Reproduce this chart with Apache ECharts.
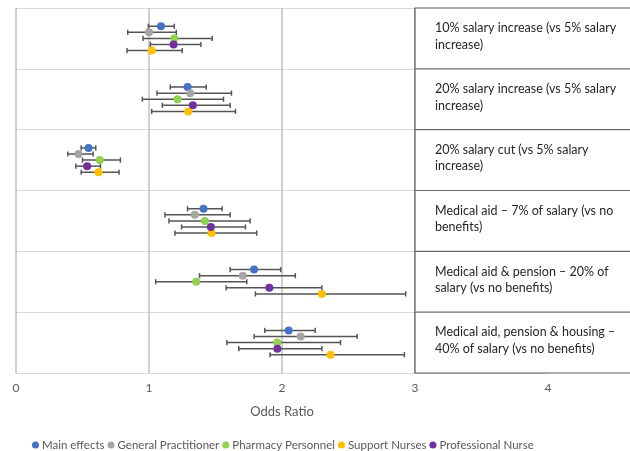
<!DOCTYPE html>
<html>
<head>
<meta charset="utf-8">
<script src="https://cdn.jsdelivr.net/npm/echarts@6/dist/echarts.min.js"></script>
<style>
html,body{margin:0;padding:0;background:#fff;}
#chart{width:630px;height:451px;}
</style>
</head>
<body>
<div id="chart"></div>
<script>
// ---- Data ----
const categories = [
  "10% salary increase (vs 5% salary\nincrease)",
  "20% salary increase (vs 5% salary\nincrease)",
  "20% salary cut (vs 5% salary\nincrease)",
  "Medical aid \u2013 7% of salary (vs no\nbenefits)",
  "Medical aid & pension \u2013 20% of\nsalary (vs no benefits)",
  "Medical aid, pension & housing \u2013\n40% of salary (vs no benefits)"
];
const seriesNames = ["Main effects", "General Practitioner", "Pharmacy Personnel", "Support Nurses", "Professional Nurse"];
const xTickLabels = ["0", "1", "2", "3", "4"];

const mainOR    = [1.09, 1.29, 0.545, 1.41, 1.79, 2.05];
const mainLow   = [0.995, 1.16, 0.49, 1.29, 1.61, 1.87];
const mainHigh  = [1.19, 1.43, 0.60, 1.55, 1.99, 2.25];

const gpOR      = [1.00, 1.31, 0.47, 1.345, 1.705, 2.14];
const gpLow     = [0.84, 1.06, 0.39, 1.12, 1.38, 1.79];
const gpHigh    = [1.205, 1.62, 0.58, 1.61, 2.10, 2.565];

const pharmOR   = [1.19, 1.215, 0.63, 1.42, 1.355, 1.965];
const pharmLow  = [0.955, 0.95, 0.50, 1.15, 1.05, 1.585];
const pharmHigh = [1.475, 1.56, 0.785, 1.76, 1.735, 2.44];

const suppOR    = [1.02, 1.295, 0.62, 1.47, 2.30, 2.365];
const suppLow   = [0.835, 1.02, 0.49, 1.195, 1.80, 1.91];
const suppHigh  = [1.25, 1.65, 0.775, 1.81, 2.93, 2.92];

const profOR    = [1.185, 1.33, 0.535, 1.465, 1.905, 1.965];
const profLow   = [1.01, 1.10, 0.45, 1.245, 1.58, 1.675];
const profHigh  = [1.39, 1.61, 0.635, 1.725, 2.30, 2.30];

// ---- Styling / layout (not data) ----
const groups = [
  {name: seriesNames[0], or: mainOR,  lo: mainLow,  hi: mainHigh,  color: '#4472C4', off: 0.2},
  {name: seriesNames[1], or: gpOR,    lo: gpLow,    hi: gpHigh,    color: '#A5A5A5', off: 0.1},
  {name: seriesNames[2], or: pharmOR, lo: pharmLow, hi: pharmHigh, color: '#92D050', off: 0.0},
  {name: seriesNames[3], or: suppOR,  lo: suppLow,  hi: suppHigh,  color: '#FFC000', off: -0.2},
  {name: seriesNames[4], or: profOR,  lo: profLow,  hi: profHigh,  color: '#7030A0', off: -0.1}
];
const nRows = categories.length;
const FONT = 'Lato, "Open Sans", sans-serif';

const series = [];
groups.forEach(g => {
  const ebData = g.or.map((v, i) => [g.lo[i], g.hi[i], nRows - i - 0.5 + g.off]);
  series.push({
    type: 'custom',
    silent: true,
    z: 2,
    data: ebData,
    renderItem: function (params, api) {
      const y = api.value(2);
      const p1 = api.coord([api.value(0), y]);
      const p2 = api.coord([api.value(1), y]);
      const h = 2.6;
      const st = {stroke: '#555555', lineWidth: 1.5};
      return {
        type: 'group',
        children: [
          {type: 'line', shape: {x1: p1[0], y1: p1[1], x2: p2[0], y2: p2[1]}, style: st},
          {type: 'line', shape: {x1: p1[0], y1: p1[1] - h, x2: p1[0], y2: p1[1] + h}, style: st},
          {type: 'line', shape: {x1: p2[0], y1: p2[1] - h, x2: p2[0], y2: p2[1] + h}, style: st}
        ]
      };
    }
  });
});
groups.forEach(g => {
  series.push({
    name: g.name,
    type: 'scatter',
    z: 3,
    symbol: 'circle',
    symbolSize: 8,
    itemStyle: {color: g.color, opacity: 1},
    data: g.or.map((v, i) => [v, nRows - i - 0.5 + g.off])
  });
});

const chart = echarts.init(document.getElementById('chart'), null, {renderer: 'canvas'});
chart.setOption({
  animation: false,
  backgroundColor: '#ffffff',
  grid: {left: 16, right: 82, top: 8, bottom: 78, containLabel: false},
  xAxis: {
    type: 'value', min: 0, max: 4, interval: 1,
    name: 'Odds Ratio', nameLocation: 'middle', nameGap: 32,
    nameTextStyle: {color: '#595959', fontSize: 13, fontFamily: FONT},
    axisLine: {show: false}, axisTick: {show: false},
    axisLabel: {color: '#595959', fontSize: 12, fontFamily: FONT, margin: 9,
      formatter: v => xTickLabels[Math.round(v)] ?? ''},
    splitLine: {show: true, lineStyle: {color: '#BFBFBF', width: 1.5}}
  },
  yAxis: {
    type: 'value', min: 0, max: nRows, interval: 1,
    axisLine: {show: false}, axisTick: {show: false}, axisLabel: {show: false},
    splitLine: {show: true, lineStyle: {color: '#D9D9D9', width: 1.2}}
  },
  legend: {
    data: seriesNames,
    left: 27, top: 434,
    icon: 'circle', itemWidth: 7, itemHeight: 7, itemGap: 3,
    textStyle: {color: '#595959', fontSize: 11.5, fontFamily: FONT, padding: [0, 0, 0, -2]}
  },
  series: series
});

// ---- Table of labels drawn on the right using the axis scales ----
const xL = chart.convertToPixel({xAxisIndex: 0}, 3);
const yTop = chart.convertToPixel({yAxisIndex: 0}, nRows);
const yBot = chart.convertToPixel({yAxisIndex: 0}, 0);
const graphics = [{
  type: 'rect', z: 10,
  shape: {x: xL, y: yTop, width: 700 - xL, height: yBot - yTop},
  style: {fill: '#ffffff', stroke: '#5a5a5a', lineWidth: 1.2}
}];
categories.forEach((c, i) => {
  const rt = chart.convertToPixel({yAxisIndex: 0}, nRows - i);
  const rb = chart.convertToPixel({yAxisIndex: 0}, nRows - i - 1);
  if (i < nRows - 1) {
    graphics.push({type: 'line', z: 11,
      shape: {x1: xL, y1: rb, x2: 700, y2: rb},
      style: {stroke: '#6a6a6a', lineWidth: 1.2}});
  }
  graphics.push({type: 'text', z: 12, x: xL + 20, y: rt + 12,
    style: {text: c, fill: '#262626', fontSize: 12.5, lineHeight: 16.5, fontFamily: FONT,
      textAlign: 'left', textVerticalAlign: 'top'}});
});
chart.setOption({graphic: graphics});
</script>
</body>
</html>
